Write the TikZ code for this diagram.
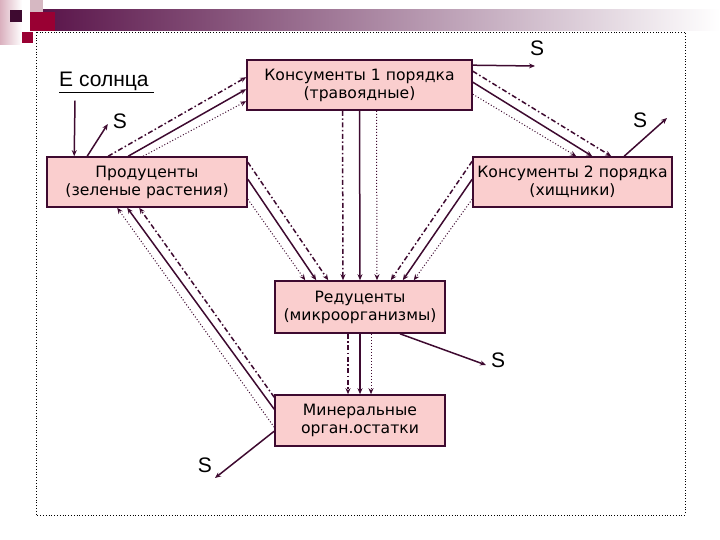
\documentclass[tikz,border=0pt]{standalone}
\usepackage{fontspec}
\setmainfont{Liberation Sans}
\newfontfamily\boxfont{DejaVu Sans}
\usetikzlibrary{positioning,arrows.meta,calc}
\definecolor{boxpink}{RGB}{250,206,206}
\definecolor{plum}{RGB}{62,10,48}
\definecolor{barpurple}{RGB}{88,18,72}
\tikzstyle{block} = [rectangle, draw=plum, fill=boxpink, line width=1.6pt, align=center, font=\boxfont\fontsize{15.6}{18}\selectfont, inner sep=0pt]
\tikzstyle{arrow} = [line width=1.5pt, draw=plum, ->, >={Stealth[length=6pt,width=5pt]}]
\tikzstyle{dashdot} = [dash pattern=on 5pt off 2.5pt on 1.5pt off 2.5pt]
\tikzstyle{dots} = [line width=1pt, dotted]
\tikzstyle{slabel} = [font=\fontsize{21}{21}\selectfont, inner sep=0pt]

\begin{document}
\begin{tikzpicture}[x=1pt, y=-1pt]
\useasboundingbox (0,0) rectangle (720,540);
% slide decoration
\shade[left color=barpurple, middle color=gray!70, right color=white] (35,10) rectangle (720,31);
\shade[left color=gray!45!purple!40, right color=white] (0,0) rectangle (22,45);
\fill[plum] (10,10) rectangle (22,22);
\fill[gray!60!purple!40] (30,0) rectangle (43,12);
\fill[purple!80!black] (30,12) rectangle (55,31);
\fill[purple!80!black] (22,32) rectangle (33,43);
\draw[dotted, line width=0.8pt] (36,32) rectangle (685,515);

% boxes
\node (k1) [block, minimum width=225pt, minimum height=50pt] at (359.5,85) {Консументы 1 порядка\\(травоядные)};
\node (prod) [block, minimum width=200pt, minimum height=50pt] at (147,182) {Продуценты\\(зеленые растения)};
\node (k2) [block, minimum width=199pt, minimum height=50pt] at (572.5,182) {Консументы 2 порядка\\(хищники)};
\node (red) [block, minimum width=170pt, minimum height=52pt] at (360,307) {Редуценты\\(микроорганизмы)};
\node (mins) [block, minimum width=170pt, minimum height=51pt] at (360,420.5) {Минеральные\\орган.остатки};

% labels
\node (sun) [slabel, anchor=west] at (59,82) {\underline{E солнца\ }};
\node (s1) [slabel] at (120,121) {S};
\node (s2) [slabel] at (537,48) {S};
\node (s3) [slabel] at (640,120) {S};
\node (s4) [slabel] at (498,360) {S};
\node (s5) [slabel] at (205,465) {S};
\coordinate (e2) at (535,66);
\coordinate (e3) at (667,118);
\coordinate (e4) at (486,365);
\coordinate (e5) at (215,478);

% energy in and losses
\draw [arrow] ([xshift=16pt,yshift=-8pt]sun.south west) -- ([xshift=28pt]prod.north west);
\draw [arrow] ([xshift=41pt]prod.north west) -- ([xshift=-5pt,yshift=-3pt]s1.west);
\draw [arrow] ([yshift=-6pt]k1.north east) -- (e2);
\draw [arrow] ([xshift=152pt]k2.north west) -- (e3);
\draw [arrow] ([xshift=40pt]red.south) -- (e4);
\draw [arrow] ([yshift=-37pt]mins.north west) -- (e5);

% producers -> consumers 1
\draw [arrow, dashdot] ([xshift=62pt]prod.north west) -- ([yshift=-18pt]k1.north west);
\draw [arrow] ([xshift=82pt]prod.north west) -- ([yshift=-30pt]k1.north west);
\draw [arrow, dots] ([xshift=97pt]prod.north west) -- ([yshift=-42pt]k1.north west);
% consumers 1 -> consumers 2
\draw [arrow, dashdot] ([yshift=-12pt]k1.north east) -- ([xshift=139pt]k2.north west);
\draw [arrow] ([yshift=-23pt]k1.north east) -- ([xshift=120pt]k2.north west);
\draw [arrow, dots] ([yshift=-35pt]k1.north east) -- ([xshift=104pt]k2.north west);
% producers -> reducers
\draw [arrow, dashdot] ([yshift=-6pt]prod.north east) -- ([xshift=54pt]red.north west);
\draw [arrow] ([yshift=-23pt]prod.north east) -- ([xshift=42pt]red.north west);
\draw [arrow, dots] ([yshift=-43pt]prod.north east) -- ([xshift=31pt]red.north west);
% consumers 1 -> reducers
\draw [arrow, dashdot] ([xshift=-17pt]k1.south) -- ([xshift=-17pt]red.north);
\draw [arrow] (k1.south) -- (red.north);
\draw [arrow, dots] ([xshift=17pt]k1.south) -- ([xshift=17pt]red.north);
% consumers 2 -> reducers
\draw [arrow, dashdot] ([yshift=-5pt]k2.north west) -- ([xshift=-55pt]red.north east);
\draw [arrow] ([yshift=-23pt]k2.north west) -- ([xshift=-43pt]red.north east);
\draw [arrow, dots] ([yshift=-43pt]k2.north west) -- ([xshift=-32pt]red.north east);
% reducers -> minerals
\draw [arrow, dashdot] ([xshift=-12pt]red.south) -- ([xshift=-12pt]mins.north);
\draw [arrow] (red.south) -- (mins.north);
\draw [arrow, dots] ([xshift=11pt]red.south) -- ([xshift=11pt]mins.north);
% minerals -> producers
\draw [arrow, dashdot] ([yshift=-3pt]mins.north west) -- ([xshift=93pt]prod.south west);
\draw [arrow] ([yshift=-15pt]mins.north west) -- ([xshift=81pt]prod.south west);
\draw [arrow, dots] ([yshift=-33pt]mins.north west) -- ([xshift=71pt]prod.south west);
\end{tikzpicture}
\end{document}
